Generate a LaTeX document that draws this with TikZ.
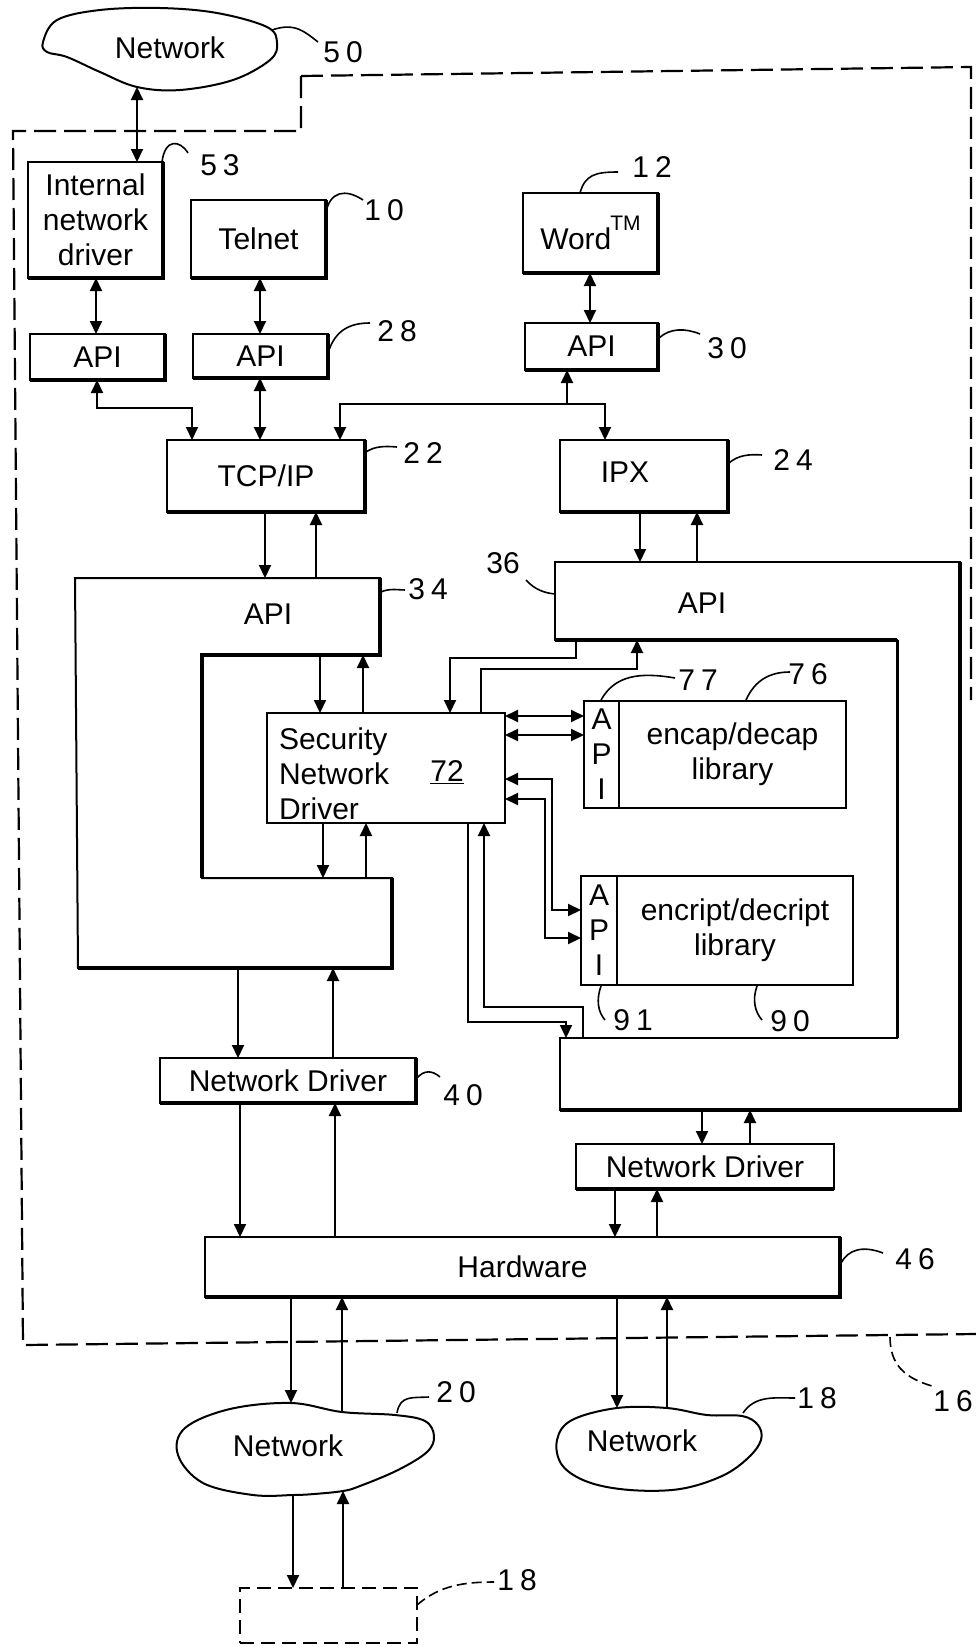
\documentclass[tikz,border=0pt]{standalone}
\usepackage{fontspec}
\setmainfont{Liberation Sans}
\usetikzlibrary{arrows.meta}
\newcommand{\fnt}{\fontsize{30}{35}\selectfont}
\newcommand{\reflbl}[2]{#1\kern6pt#2}
\newcommand{\shd}[1]{\draw[shadowline] (#1.south west) -- (#1.south east) -- (#1.north east);}
\tikzset{
 txt/.style={inner sep=0pt, font=\fnt},
 box/.style={draw, line width=2pt, inner sep=0pt, outer sep=0pt, font=\fnt, align=center},
 arr/.style={line width=2pt, -{Triangle[length=13pt,width=12pt]}},
 biarr/.style={line width=2pt, {Triangle[length=13pt,width=12pt]}-{Triangle[length=13pt,width=12pt]}},
 shadowline/.style={line width=4.5pt},
 lead/.style={line width=1.6pt},
 bound/.style={line width=2.2pt, dash pattern=on 22pt off 8pt},
 cloudline/.style={line width=2pt},
 region/.style={inner sep=0pt, outer sep=0pt}
}
\begin{document}
\begin{tikzpicture}[x=1pt,y=-1pt,line width=2pt]
\useasboundingbox (0,0) rectangle (976,1646);
\fill[white] (0,0) rectangle (976,1646);

% ---------- dashed boundary 16 ----------
\draw[bound] (301,76) -- (301,131) -- (13,131) -- (23,1345) -- (976,1334);
\draw[bound] (301,76) -- (971,67) -- (971,700);

% ---------- clouds ----------
\draw[cloudline] plot[smooth cycle, tension=0.6] coordinates {(43,42) (57,20) (100,10) (160,8) (217,13) (267,27) (277,43) (270,60) (233,80) (180,90) (137,87) (100,72) (67,57) (47,52)};
\node[txt] (n50) at (170,48) {Network};
\coordinate (c50b) at (137,87);

\draw[cloudline] plot[smooth cycle, tension=0.6] coordinates {(291,1403) (342,1412) (395,1415) (425,1421) (434,1436) (427,1452) (398,1470) (360,1486) (343,1491) (314,1494) (293,1495) (253,1495) (203,1483) (178,1455) (185,1428) (230,1409)};
\node[txt] (n20) at (288,1446) {Network};
\coordinate (c20a) at (291,1403);
\coordinate (c20b) at (342,1412);
\coordinate (c20c) at (293,1495);
\coordinate (c20d) at (343,1491);

\draw[cloudline] plot[smooth cycle, tension=0.6] coordinates {(617,1408) (667,1408) (707,1415) (742,1416) (758,1425) (761,1440) (748,1458) (722,1476) (680,1489) (630,1490) (588,1482) (562,1465) (557,1440) (572,1420)};
\node[txt] (n18) at (642,1441) {Network};
\coordinate (c18a) at (617,1408);
\coordinate (c18b) at (667,1408);

% ---------- boxes ----------
\node[box, minimum width=135pt, minimum height=116pt] (ind) at (95.5,220) {Internal\\network\\driver};
\shd{ind}
\node[box, minimum width=135pt, minimum height=78pt] (tel) at (258.5,239) {Telnet};
\shd{tel}
\node[box, minimum width=135pt, minimum height=46pt] (apiL) at (97.5,357) {API};
\shd{apiL}
\node[box, minimum width=135pt, minimum height=44pt] (api28) at (260.5,356) {API};
\shd{api28}
\node[box, minimum width=135pt, minimum height=80pt] (word) at (590.5,233) {Word\kern-1pt\raisebox{19pt}{\fontsize{21}{21}\selectfont TM}};
\shd{word}
\node[box, minimum width=133pt, minimum height=47pt] (api30) at (591.5,346.5) {API};
\shd{api30}
\node[box, minimum width=198pt, minimum height=72pt] (tcp) at (266,476) {TCP/IP};
\shd{tcp}
\node[box, minimum width=168pt, minimum height=72pt] (ipx) at (644,476) {};
\node[txt] (ipxt) at (625,472) {IPX};
\shd{ipx}

% ---------- API 34 (C shape) ----------
\node[region, minimum width=305pt, minimum height=77pt] (a34) at (227.5,616.5) {};
\node[region, minimum width=190pt, minimum height=90pt] (a34b) at (297,923) {};
\draw (75,578) -- (380,578) -- (380,655) -- (202,655) -- (202,878) -- (392,878) -- (392,968) -- (78,968) -- cycle;
\draw[shadowline] (380,578) -- (380,655) -- (202,655) -- (202,878);
\draw[shadowline] (392,878) -- (392,968) -- (78,968);
\node[txt] (a34t) at (268,614) {API};

% ---------- API 36 (C shape) ----------
\node[region, minimum width=405pt, minimum height=78pt] (a36) at (757.5,601) {};
\node[region, minimum width=400pt, minimum height=72pt] (a36b) at (760,1074) {};
\draw (555,562) -- (960,562) -- (960,1110) -- (560,1110) -- (560,1038) -- (897,1038) -- (897,640) -- (555,640) -- cycle;
\draw[shadowline] (960,562) -- (960,1110) -- (560,1110);
\draw[shadowline] (897,640) -- (555,640);
\draw[line width=3pt] (897,640) -- (897,1038);
\node[txt] (a36t) at (702,603) {API};

% ---------- security network driver ----------
\node[box, minimum width=238pt, minimum height=110pt] (snd) at (386,768) {};
\node[txt, anchor=west, align=left] (sndt) at (278,774) {Security\\Network\\Driver};
\node[txt] (snd72) at (447,772) {\underline{72}};

% ---------- libraries ----------
\node[box, minimum width=35pt, minimum height=107pt] (eapi) at (601.5,754.5) {A\\P\\I};
\node[box, minimum width=227pt, minimum height=107pt] (encap) at (732.5,754.5) {encap/decap\\library};
\node[box, minimum width=36pt, minimum height=109pt] (capi) at (599,930.5) {A\\P\\I};
\node[box, minimum width=236pt, minimum height=109pt] (encr) at (735,930.5) {encript/decript\\library};

% ---------- drivers, hardware ----------
\node[box, minimum width=256pt, minimum height=45pt] (nd40) at (288,1080.5) {Network Driver};
\shd{nd40}
\node[box, minimum width=258pt, minimum height=45pt] (ndR) at (705,1166.5) {Network Driver};
\draw[line width=3.5pt] (ndR.south west) -- (ndR.south east);
\node[box, minimum width=635pt, minimum height=60pt] (hw) at (522.5,1267) {Hardware};
\shd{hw}
\node[draw, line width=2pt, dash pattern=on 14pt off 7pt, inner sep=0pt, outer sep=0pt, minimum width=177pt, minimum height=55pt] (dbox) at (328.5,1615.5) {};

% ---------- connectors ----------
\draw[biarr] (c50b) -- (ind.north -| c50b);
\draw[biarr] (ind.south -| 96,0) -- (apiL.north -| 96,0);
\draw[biarr] (tel.south -| 260,0) -- (api28.north -| 260,0);
\draw[biarr] (word.south -| 590,0) -- (api30.north -| 590,0);
\draw[biarr] (apiL.south -| 97,0) -- (97,408) -- (192,408) -- (tcp.north -| 192,0);
\draw[biarr] (api28.south -| 260,0) -- (tcp.north -| 260,0);
\draw[biarr] (tcp.north -| 340,0) -- (340,404) -- (605,404) -- (ipx.north -| 605,0);
\coordinate (j30) at (567,404);
\draw[arr] (j30) -- (api30.south -| j30);

\draw[arr] (tcp.south -| 265,0) -- (a34.north -| 265,0);
\draw[arr] (a34.north -| 316,0) -- (tcp.south -| 316,0);
\draw[arr] (ipx.south -| 640,0) -- (a36.north -| 640,0);
\draw[arr] (a36.north -| 697,0) -- (ipx.south -| 697,0);

\draw[arr] (a34.south -| 320,0) -- (snd.north -| 320,0);
\draw[arr] (snd.north -| 363,0) -- (a34.south -| 363,0);
\draw[arr] (snd.south -| 323,0) -- (a34b.north -| 323,0);
\draw[arr] (a34b.north -| 366,0) -- (snd.south -| 366,0);

\draw[arr] (a36.south -| 576,0) -- (576,658) -- (450,658) -- (snd.north -| 450,0);
\draw[arr] (snd.north -| 481,0) -- (481,669) -- (637,669) -- (a36.south -| 637,0);

\draw[biarr] (snd.east |- 0,716) -- (eapi.west |- 0,716);
\draw[biarr] (snd.east |- 0,735) -- (eapi.west |- 0,735);
\draw[biarr] (snd.east |- 0,779) -- (552,779) -- (552,910) -- (capi.west |- 0,910);
\draw[biarr] (snd.east |- 0,799) -- (545,799) -- (545,938) -- (capi.west |- 0,938);

\draw[arr] (snd.south -| 468,0) -- (468,1022) -- (566,1022) -- (a36b.north -| 566,0);
\draw[arr] (a36b.north -| 583,0) -- (583,1007) -- (484,1007) -- (snd.south -| 484,0);

\draw[arr] (a36b.south -| 702,0) -- (ndR.north -| 702,0);
\draw[arr] (ndR.north -| 750,0) -- (a36b.south -| 750,0);
\draw[arr] (a34b.south -| 238,0) -- (nd40.north -| 238,0);
\draw[arr] (nd40.north -| 333,0) -- (a34b.south -| 333,0);
\draw[arr] (nd40.south -| 240,0) -- (hw.north -| 240,0);
\draw[arr] (hw.north -| 335,0) -- (nd40.south -| 335,0);
\draw[arr] (ndR.south -| 615,0) -- (hw.north -| 615,0);
\draw[arr] (hw.north -| 657,0) -- (ndR.south -| 657,0);

\draw[arr] (hw.south -| c20a) -- (c20a);
\draw[arr] (c20b) -- (hw.south -| c20b);
\draw[arr] (hw.south -| c18a) -- (c18a);
\draw[arr] (c18b) -- (hw.south -| c18b);
\draw[arr] (c20c) -- (dbox.north -| c20c);
\draw[arr] (dbox.north -| c20d) -- (c20d);

% ---------- reference numerals and leaders ----------
\draw[lead] (272,30) .. controls (295,22) and (305,32) .. (318,42);
\node[txt] (l50) at (343,52) {\reflbl50};
\draw[lead] (162,162) .. controls (165,138) and (180,140) .. (188,153);
\node[txt] (l53) at (220,165) {\reflbl53};
\draw[lead] (326,212) .. controls (330,192) and (345,188) .. (363,200);
\node[txt] (l10) at (384,210) {\reflbl10};
\draw[lead] (328,353) .. controls (335,330) and (350,323) .. (370,323);
\node[txt] (l28) at (397,331) {\reflbl28};
\draw[lead] (580,193) .. controls (585,175) and (595,172) .. (618,172);
\node[txt] (l12) at (652,167) {\reflbl12};
\draw[lead] (659,338) .. controls (670,328) and (685,328) .. (700,334);
\node[txt] (l30) at (727,348) {\reflbl30};
\draw[lead] (366,452) .. controls (375,446) and (385,446) .. (397,447);
\node[txt] (l22) at (423,453) {\reflbl22};
\draw[lead] (729,463) .. controls (738,455) and (750,454) .. (762,455);
\node[txt] (l24) at (793,460) {\reflbl24};
\draw[lead] (381,592) .. controls (390,588) and (398,590) .. (405,590);
\node[txt] (l34) at (428,589) {\reflbl34};
\draw[lead] (526,580) .. controls (535,590) and (545,593) .. (555,594);
\node[txt] (l36) at (503,563) {36};
\draw[lead] (601,700) .. controls (615,675) and (640,672) .. (675,678);
\node[txt] (l77) at (698,680) {\reflbl77};
\draw[lead] (746,700) .. controls (755,680) and (770,672) .. (790,672);
\node[txt] (l76) at (808,674) {\reflbl76};
\draw[lead] (601,986) .. controls (596,1000) and (598,1012) .. (605,1020);
\node[txt] (l91) at (633,1020) {\reflbl91};
\draw[lead] (757,986) .. controls (752,1000) and (755,1012) .. (762,1020);
\node[txt] (l90) at (790,1021) {\reflbl90};
\draw[lead] (417,1078) .. controls (424,1070) and (432,1070) .. (440,1077);
\node[txt] (l40) at (463,1095) {\reflbl40};
\draw[lead] (841,1263) .. controls (848,1250) and (862,1245) .. (883,1253);
\node[txt] (l46) at (915,1259) {\reflbl46};
\draw[lead] (397,1413) .. controls (400,1395) and (412,1398) .. (429,1397);
\node[txt] (l20) at (456,1392) {\reflbl20};
\draw[lead] (743,1413) .. controls (755,1395) and (775,1398) .. (795,1398);
\node[txt] (l18a) at (817,1398) {\reflbl18};
\draw[lead, dash pattern=on 10pt off 5pt] (890,1337) .. controls (890,1365) and (905,1378) .. (932,1386);
\node[txt] (l16) at (953,1401) {\reflbl16};
\draw[lead, dash pattern=on 10pt off 5pt] (417,1605) .. controls (440,1585) and (465,1582) .. (494,1582);
\node[txt] (l18b) at (517,1580) {\reflbl18};
\end{tikzpicture}
\end{document}
